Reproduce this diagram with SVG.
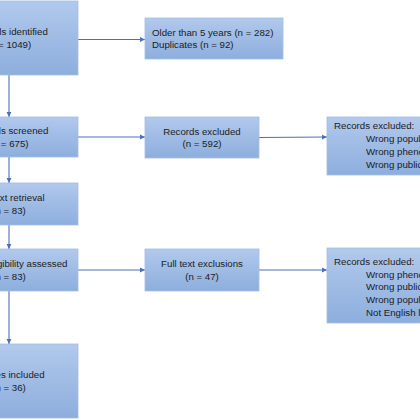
<svg xmlns="http://www.w3.org/2000/svg" width="420" height="420" viewBox="0 0 420 420">
<defs>
<linearGradient id="g" x1="0" y1="0" x2="0" y2="1">
<stop offset="0" stop-color="#b1c9ec"/>
<stop offset="1" stop-color="#8daedd"/>
</linearGradient>
<marker id="a" markerUnits="userSpaceOnUse" markerWidth="6" markerHeight="6" refX="5" refY="3" orient="auto">
<path d="M0,0.6 L5,3 L0,5.4 Z" fill="#4a70bb"/>
</marker>
<style>
.b{fill:url(#g);stroke:#a3bde3;stroke-width:0.8}
.t{font-family:"Liberation Sans",Arial,sans-serif;font-size:9.7px;fill:#1c1c1c}
.m{text-anchor:middle}
.c{fill:none;stroke:#4a70bb;stroke-width:1.1;marker-end:url(#a)}
</style>
</defs>
<rect width="420" height="420" fill="#ffffff"/>
<g id="connectors">
<line class="c" x1="9" y1="75" x2="9" y2="117"/>
<line class="c" x1="9" y1="157" x2="9" y2="183"/>
<line class="c" x1="9" y1="225" x2="9" y2="249"/>
<line class="c" x1="9" y1="291" x2="9" y2="344"/>
<line class="c" x1="78" y1="39.5" x2="145" y2="39.5"/>
<line class="c" x1="78" y1="137" x2="145" y2="137"/>
<line class="c" x1="259" y1="137.5" x2="327" y2="137"/>
<line class="c" x1="78" y1="270" x2="145" y2="270"/>
<line class="c" x1="259" y1="270" x2="327" y2="270"/>
</g>
<g id="identified">
<rect class="b" x="-60" y="1" width="138" height="74"/>
<text class="t m" x="9" y="35.3">Records identified</text>
<text class="t m" x="9" y="47.8">(n = 1049)</text>
</g>
<g id="older">
<rect class="b" x="145" y="18" width="138" height="41"/>
<text class="t" x="152" y="35.5">Older than 5 years (n = 282)</text>
<text class="t" x="152" y="48">Duplicates (n = 92)</text>
</g>
<g id="screened">
<rect class="b" x="-60" y="117" width="138" height="40"/>
<text class="t m" x="9" y="134">Records screened</text>
<text class="t m" x="9" y="146.5">(n = 675)</text>
</g>
<g id="excluded1">
<rect class="b" x="145" y="117" width="114" height="41"/>
<text class="t m" x="202" y="134.5">Records excluded</text>
<text class="t m" x="202" y="147">(n = 592)</text>
</g>
<g id="reasons1">
<rect class="b" x="327" y="117" width="110" height="58"/>
<text class="t" x="334" y="129">Records excluded:</text>
<text class="t" x="366" y="142">Wrong population</text>
<text class="t" x="366" y="155">Wrong phenotype</text>
<text class="t" x="366" y="167.5">Wrong publication type</text>
</g>
<g id="retrieval">
<rect class="b" x="-60" y="183" width="138" height="42"/>
<text class="t m" x="9" y="201">Full text retrieval</text>
<text class="t m" x="9" y="213.5">(n = 83)</text>
</g>
<g id="eligibility">
<rect class="b" x="-60" y="249" width="138" height="42"/>
<text class="t m" x="9" y="267">Full text eligibility assessed</text>
<text class="t m" x="9" y="279.5">(n = 83)</text>
</g>
<g id="fulltext">
<rect class="b" x="145" y="249" width="114" height="42"/>
<text class="t m" x="202" y="267">Full text exclusions</text>
<text class="t m" x="202" y="279.5">(n = 47)</text>
</g>
<g id="reasons2">
<rect class="b" x="327" y="248" width="110" height="75"/>
<text class="t" x="334" y="265">Records excluded:</text>
<text class="t" x="366" y="277.5">Wrong phenotype</text>
<text class="t" x="366" y="290">Wrong publication type</text>
<text class="t" x="366" y="303">Wrong population</text>
<text class="t" x="366" y="315.5">Not English language</text>
</g>
<g id="included">
<rect class="b" x="-60" y="344" width="138" height="74"/>
<text class="t m" x="9" y="378">Studies included</text>
<text class="t m" x="9" y="390.5">(n = 36)</text>
</g>
</svg>
